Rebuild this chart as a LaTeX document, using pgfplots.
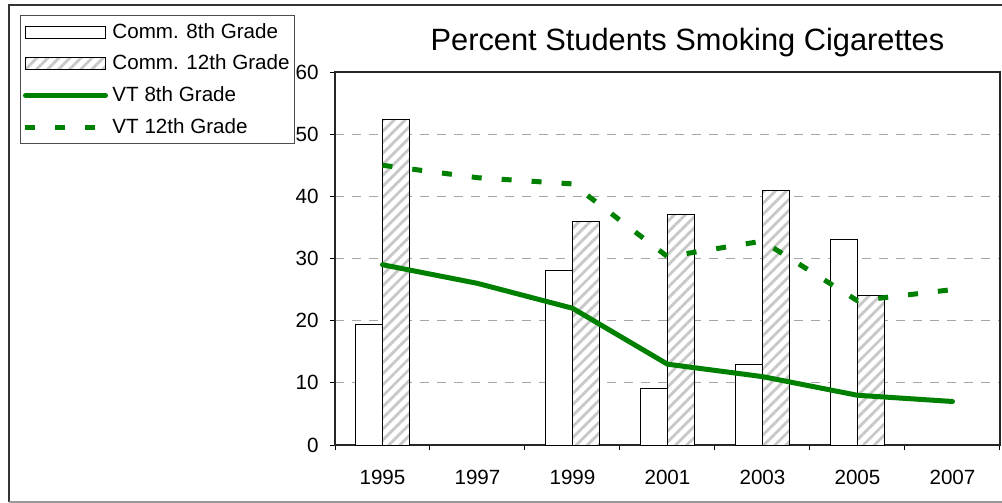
\documentclass[border=0pt]{standalone}
\usepackage{pgfplots}
\pgfplotsset{compat=1.18}
\usetikzlibrary{patterns.meta}
\usepackage{fontspec}
\setmainfont{Liberation Sans}
\definecolor{vtgreen}{HTML}{008000}
\definecolor{hatchgray}{HTML}{C8C8C8}
\pgfplotsset{
  barlegend/.style={legend image code/.code={\draw[##1] (0pt,-3pt) rectangle (40pt,3pt);}},
  linelegend/.style={legend image code/.code={\draw[##1] (0pt,0pt) -- (40pt,0pt);}},
}
\begin{document}
\begin{tikzpicture}
\useasboundingbox (0,0) rectangle (501pt,-251.5pt);
\draw[black!80, line width=1pt] (4.5pt,-251pt) -- (4.5pt,-2.5pt) -- (501pt,-2.5pt);
\draw[black!40, line width=0.6pt] (4.5pt,-251pt) -- (501pt,-251pt);
\begin{axis}[
  at={(167.5pt,-222.5pt)}, anchor=south west,
  scale only axis, width=332.5pt, height=186.5pt,
  xmin=-0.5, xmax=6.5, ymin=0, ymax=60,
  enlargelimits=false,
  xtick={-0.5,0.5,1.5,2.5,3.5,4.5,5.5,6.5},
  xticklabels={1995,1997,1999,2001,2003,2005,2007},
  x tick label as interval,
  ytick={0,10,20,30,40,50,60},
  /pgf/number format/assume math mode=true,
  tick pos=left,
  tick align=outside,
  major tick length=2.5pt,
  tick style={black, line width=0.5pt},
  axis line style={black!85, line width=0.6pt},
  ymajorgrids,
  major grid style={gray!70, line width=0.5pt, dash pattern=on 4.5pt off 4pt},
  ticklabel style={font=\fontsize{10.3}{12}\selectfont},
  yticklabel style={inner xsep=0pt, xshift=-5.5pt},
  xticklabel style={inner ysep=0pt, yshift=-10pt},
  every axis title shift=0pt,
  title={Percent Students Smoking Cigarettes},
  title style={at={(axis description cs:0.530,1.059)}, anchor=base, inner sep=0pt, font=\fontsize{15.4}{18}\selectfont},
  legend style={at={(axis description cs:-0.4737,1.1528)}, anchor=north west,
    draw=black!70, line width=0.5pt, inner xsep=1.25pt, inner ysep=3.3pt,
    font=\fontsize{10.3}{12}\selectfont,
    nodes={inner xsep=1.25pt, inner ysep=0pt, text height=8pt, text depth=2pt},
    /tikz/every odd column/.append style={column sep=1pt},
    row sep=5.85pt},
  legend cell align=left,
]
\addplot[ybar, bar width=13.5pt, bar shift=-6.75pt, draw=black, line width=0.5pt, fill=white, barlegend]
  coordinates {(0,19.4) (2,28.0) (3,9.1) (4,13.0) (5,33.0)};
\addlegendentry{Comm. 8th Grade}
\addplot[ybar, bar width=13.5pt, bar shift=6.75pt, draw=black, line width=0.5pt, fill=white,
  postaction={pattern={Lines[angle=45,distance=3.9pt,line width=1.4pt]}, pattern color=hatchgray}, barlegend]
  coordinates {(0,52.4) (2,36.0) (3,37.1) (4,41.0) (5,24.0)};
\addlegendentry{Comm. 12th Grade}
\addplot[vtgreen, line width=2.5pt, line join=round, line cap=round, mark=none, linelegend]
  coordinates {(0,29.0) (1,26.0) (2,22.0) (3,13.0) (4,11.0) (5,8.0) (6,7.0)};
\addlegendentry{VT 8th Grade}
\addplot[vtgreen, line width=2.5pt, line join=round, dash pattern=on 5pt off 10pt, mark=none, linelegend]
  coordinates {(0,45.0) (1,43.0) (2,42.0) (3,30.3) (4,32.8) (5,23.2) (6,25.0)};
\addlegendentry{VT 12th Grade}
\end{axis}
\end{tikzpicture}
\end{document}
